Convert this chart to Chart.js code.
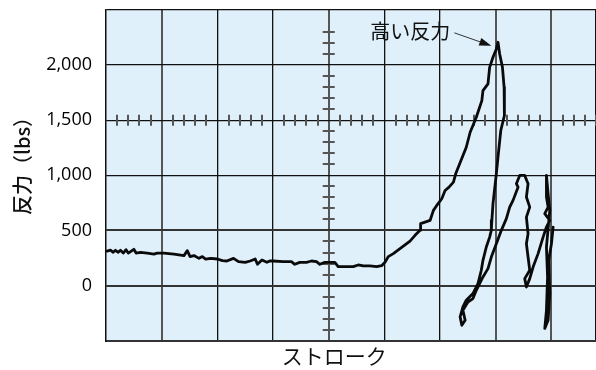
<!DOCTYPE html>
<html>
<head>
<meta charset="utf-8">
<script src="https://cdn.jsdelivr.net/npm/chart.js@4/dist/chart.umd.min.js"></script>
<style>
  html, body { margin: 0; padding: 0; background: #ffffff; }
  #wrap { width: 596px; height: 370px; }
</style>
</head>
<body>
<div id="wrap"><canvas id="c" width="596" height="370"></canvas></div>
<script>
// Stroke position (10 units per grid division) and reaction force (lbs) along the trace
const stroke = [
  0.2, 0.8, 1.3, 1.7, 2.2, 2.6, 3.1, 3.6, 4.0, 4.4, 5.0, 5.4, 6.2, 7.4, 8.6, 9.2,
  10.4, 12.2, 14.0, 14.6, 15.1, 15.8, 16.7, 17.3, 17.9, 18.8, 20.0, 20.9, 21.7, 22.9,
  23.8, 25.0, 25.9, 26.8, 27.2, 28.0, 28.9, 29.4, 30.0, 31.8, 33.3, 33.9, 34.8, 36.0,
  36.9, 37.8, 38.4, 39.3, 40.2, 41.1, 41.7, 43.2, 44.4, 45.3, 46.2, 47.4, 48.6, 49.5,
  50.1, 50.7, 51.6, 52.8, 54.6, 55.5, 56.4, 56.5, 57.3, 58.2, 58.8, 59.4, 60.3, 60.9,
  61.6, 62.4, 62.8, 64.7, 65.4, 65.9, 66.5, 67.5, 67.7, 68.6, 68.9, 69.5, 70.1, 70.4,
  70.7, 71.2, 71.5, 71.6, 71.5, 70.9, 70.4, 70.1, 69.5, 69.3, 69.2, 68.9, 68.3, 67.7,
  67.4, 66.8, 65.9, 64.7, 64.1, 63.6, 63.9, 64.5, 64.1, 65.0, 65.9, 66.5, 67.7, 68.6,
  69.2, 70.1, 71.0, 71.9, 72.5, 73.1, 74.0, 73.7, 74.3, 75.2, 75.8, 75.5, 76.1, 75.5,
  75.8, 75.5, 75.8, 76.1, 75.2, 75.5, 76.1, 76.7, 77.6, 78.5, 79.1, 79.7, 78.8, 79.4,
  79.1, 79.1, 79.4, 79.7, 79.1, 79.3, 79.1, 78.8, 79.4, 79.7, 79.5, 80.0, 80.3
];
const force = [
  313, 322, 302, 320, 302, 320, 295, 326, 295, 308, 329, 295, 302, 295, 286, 295,
  295, 286, 272, 317, 263, 272, 247, 263, 241, 247, 241, 226, 223, 247,
  217, 211, 223, 241, 193, 232, 211, 223, 223, 217, 217, 193, 211, 211,
  223, 217, 193, 211, 211, 211, 172, 172, 172, 187, 178, 178, 172, 181,
  211, 263, 290, 335, 404, 456, 501, 562, 576, 591, 682, 727, 788, 863,
  893, 938, 1014, 1255, 1391, 1452, 1527, 1678, 1769, 1830, 1980, 2071, 2147, 2207,
  2101, 1980, 1799, 1588, 1543, 1407, 1165, 1014, 743, 591, 501, 440, 350, 229,
  139, 18, -72, -133, -194, -284, -360, -314, -224, -149, -118, -43, 78, 154,
  259, 380, 501, 607, 712, 773, 893, 924, 999, 999, 924, 803, 712, 621,
  471, 380, 259, 139, 63, -13, 63, 168, 290, 440, 531, 591, 652, 712,
  803, 999, 833, 682, 350, 78, -224, -389, -314, -72, 229, 380, 531
];

// Labelled force ticks
const forceTicks = [0, 500, 1000, 1500, 2000];
const xTitle = 'ストローク';
const yTitle = '反力（lbs）';
const calloutText = '高い反力';
// Point the callout arrow touches (stroke, force)
const calloutTip = [69.2, 2175];
// Where the axis titles sit along their axes (stroke units / force lbs)
const xTitleAt = 41;
const yTitleAt = 1130;

const FONT = "'Open Sans', 'Noto Sans CJK JP', sans-serif";
const JP_FONT = "'Noto Sans CJK JP', sans-serif";

const pts = stroke.map((s, i) => ({ x: s, y: force[i] }));

const plotBackground = {
  id: 'plotBackground',
  beforeDraw(chart) {
    const { ctx, chartArea: a } = chart;
    ctx.save();
    ctx.fillStyle = '#dff0fb';
    ctx.fillRect(a.left, a.top, a.right - a.left, a.bottom - a.top);
    ctx.restore();
  }
};

// Small scale marks along the 1,500 lb line and the centre stroke line
const minorMarks = {
  id: 'minorMarks',
  beforeDatasetsDraw(chart) {
    const { ctx, scales: { x, y }, chartArea: a } = chart;
    ctx.save();
    ctx.strokeStyle = '#555';
    ctx.lineWidth = 2;
    ctx.beginPath();
    const yRow = y.getPixelForValue(1500);
    for (let s = 2; s <= 88; s += 2) {
      if (s % 10 === 0) continue;
      const px = Math.round(x.getPixelForValue(s));
      if (px > a.right) break;
      ctx.moveTo(px, yRow - 5.5);
      ctx.lineTo(px, yRow + 5.5);
    }
    const xCol = x.getPixelForValue(40);
    for (let f = -400; f <= 2300; f += 100) {
      if (f % 500 === 0) continue;
      const py = Math.round(y.getPixelForValue(f));
      ctx.moveTo(xCol - 6, py);
      ctx.lineTo(xCol + 6, py);
    }
    ctx.stroke();
    ctx.restore();
  }
};

// Axis titles
const axisTitles = {
  id: 'axisTitles',
  afterDraw(chart) {
    const { ctx, scales: { x, y }, chartArea: a } = chart;
    ctx.save();
    ctx.fillStyle = '#111';
    ctx.textAlign = 'center';
    ctx.textBaseline = 'middle';
    ctx.font = '21px ' + JP_FONT;
    ctx.fillText(xTitle, x.getPixelForValue(xTitleAt), a.bottom + 15.5);
    ctx.translate(22, y.getPixelForValue(yTitleAt));
    ctx.rotate(-Math.PI / 2);
    ctx.font = '500 20px ' + JP_FONT;
    ctx.fillText(yTitle, 0, 0);
    ctx.restore();
  }
};

const callout = {
  id: 'callout',
  afterDraw(chart) {
    const { ctx, scales: { x, y } } = chart;
    const tx = x.getPixelForValue(calloutTip[0]);
    const ty = y.getPixelForValue(calloutTip[1]);
    const sx = tx - 37, sy = ty - 13;
    const ang = Math.atan2(ty - sy, tx - sx);
    const headLen = 12, headW = 4;
    const bx = tx - headLen * Math.cos(ang), by = ty - headLen * Math.sin(ang);
    ctx.save();
    ctx.strokeStyle = '#333';
    ctx.lineWidth = 1;
    ctx.beginPath();
    ctx.moveTo(sx, sy);
    ctx.lineTo(bx, by);
    ctx.stroke();
    ctx.fillStyle = '#111';
    ctx.beginPath();
    ctx.moveTo(tx, ty);
    ctx.lineTo(bx + headW * Math.sin(ang), by - headW * Math.cos(ang));
    ctx.lineTo(bx - headW * Math.sin(ang), by + headW * Math.cos(ang));
    ctx.closePath();
    ctx.fill();
    ctx.font = '20px ' + JP_FONT;
    ctx.fillStyle = '#111';
    ctx.textAlign = 'right';
    ctx.textBaseline = 'middle';
    ctx.fillText(calloutText, sx - 4, sy - 1);
    ctx.restore();
  }
};

new Chart(document.getElementById('c'), {
  type: 'scatter',
  data: {
    datasets: [{
      data: pts,
      showLine: true,
      borderColor: '#0a0a0a',
      borderWidth: 2.8,
      pointRadius: 0,
      pointHoverRadius: 0,
      tension: 0,
      borderJoinStyle: 'round',
      borderCapStyle: 'round'
    }]
  },
  options: {
    responsive: false,
    animation: false,
    events: [],
    layout: { padding: { top: 10, right: 0, left: 0, bottom: 0 } },
    plugins: { legend: { display: false }, tooltip: { enabled: false } },
    scales: {
      x: {
        type: 'linear',
        min: 0, max: 88,
        ticks: { stepSize: 10, display: false },
        grid: {
          drawTicks: false,
          color: c => ([10, 40, 70, 80].includes(c.tick && c.tick.value) ? '#555' : '#111'),
          lineWidth: c => ([10, 40, 70, 80].includes(c.tick && c.tick.value) ? 2 : 1.3)
        },
        border: { display: true, color: '#333', width: 2 },
        title: { display: false },
        afterFit: s => { s.height = 29.3; s.paddingLeft = 0; s.paddingRight = 0; }
      },
      y: {
        type: 'linear',
        min: -500, max: 2500,
        ticks: {
          stepSize: 500,
          padding: 14,
          color: '#000',
          font: { family: FONT, size: 18 },
          callback: v => (forceTicks.includes(v) ? v.toLocaleString('en-US') : '')
        },
        grid: {
          drawTicks: false,
          color: c => ([-500, 0, 500].includes(c.tick && c.tick.value) ? '#333' : '#111'),
          lineWidth: c => ([-500, 0, 500].includes(c.tick && c.tick.value) ? 2 : 1.3)
        },
        border: { display: true, color: '#111', width: 1.3 },
        title: { display: false },
        afterFit: s => { s.width = 106; s.paddingTop = 0; s.paddingBottom = 0; }
      }
    }
  },
  plugins: [plotBackground, minorMarks, axisTitles, callout]
});
</script>
</body>
</html>
